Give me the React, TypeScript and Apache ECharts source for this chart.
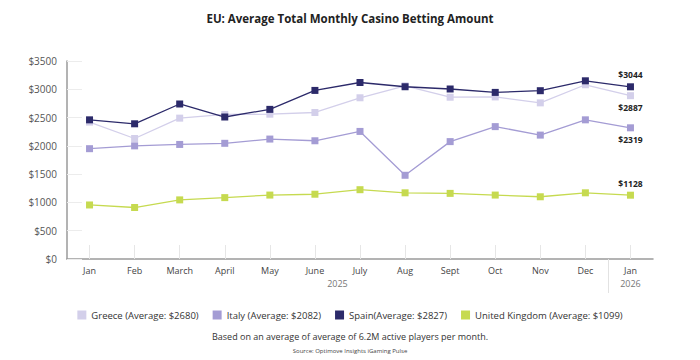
import React, { useEffect, useRef } from "react";
import * as echarts from "echarts";

const months = ["Jan", "Feb", "March", "April", "May", "June", "July", "Aug", "Sept", "Oct", "Nov", "Dec", "Jan"];
const countries = ["Greece", "Italy", "Spain", "United Kingdom"];
const averages = [2680, 2082, 2827, 1099];
const greece = [2420, 2130, 2490, 2555, 2560, 2590, 2850, 3060, 2860, 2865, 2760, 3080, 2887];
const italy = [1950, 2000, 2025, 2045, 2120, 2090, 2255, 1480, 2075, 2340, 2190, 2460, 2319];
const spain = [2460, 2390, 2740, 2510, 2645, 2980, 3120, 3045, 3005, 2945, 2975, 3150, 3044];
const uk = [955, 910, 1045, 1085, 1130, 1145, 1225, 1170, 1160, 1130, 1100, 1170, 1128];
const yearLabels = ["2025", "2026"];
const colors = ["#d3cfea", "#a49cd4", "#2c2a6a", "#c6da50"];

const FONT = "'Open Sans', 'Noto Sans', sans-serif";

export default function App() {
  const ref = useRef<HTMLDivElement>(null);
  useEffect(() => {
    if (!ref.current) return;
    const chart = echarts.init(ref.current, null, { renderer: "svg" });
    const seriesVals = [greece, italy, spain, uk];
    const labelPos = ["bottom", "bottom", "top", "top"];
    const legendNames = countries.map((c, i) =>
      c === "Spain" ? `${c}(Average: $${averages[i]})` : `${c} (Average: $${averages[i]})`
    );
    const series = seriesVals.map((vals, si) => ({
      name: legendNames[si],
      type: "line",
      symbol: "rect",
      symbolSize: 7,
      z: si === 2 ? 3 : 2,
      lineStyle: { width: 1.3, color: colors[si] },
      itemStyle: { color: colors[si] },
      data: vals.map((v, i) =>
        i === vals.length - 1
          ? {
              value: v,
              label: {
                show: true,
                position: labelPos[si],
                distance: 4,
                formatter: "$" + v,
                fontWeight: "bold",
                fontSize: 8.5,
                color: "#222",
                fontFamily: FONT,
              },
            }
          : v
      ),
    }));
    chart.setOption({
      animation: false,
      textStyle: { fontFamily: FONT },
      title: {
        text: "EU: Average Total Monthly Casino Betting Amount",
        left: "center",
        top: 7,
        textStyle: { fontSize: 11.5, fontWeight: "bold", color: "#222", fontFamily: FONT },
      },
      grid: { left: 67, right: 47, top: 61, bottom: 101 },
      xAxis: [
        {
          type: "category",
          data: months,
          boundaryGap: true,
          axisLine: { lineStyle: { color: "#9a9a9a", width: 1.5 } },
          axisTick: { show: true, inside: true, alignWithLabel: true, length: 14, lineStyle: { color: "#e6e6e6" } },
          axisLabel: { color: "#444", fontSize: 9, margin: 7, fontFamily: FONT },
          splitLine: { show: false },
        },
        {
          type: "value",
          min: 0,
          max: 13,
          position: "bottom",
          axisLine: { show: false },
          splitLine: { show: false },
          axisTick: { show: true, customValues: [12], length: 34, lineStyle: { color: "#e2e2e2" } },
          axisLabel: {
            show: true,
            customValues: [6, 12.5],
            formatter: (v: number) => (v < 12 ? yearLabels[0] : yearLabels[1]),
            color: "#777",
            fontSize: 9,
            margin: 20,
            fontFamily: FONT,
          },
        },
      ],
      yAxis: {
        type: "value",
        min: 0,
        max: 3500,
        interval: 500,
        axisLine: { show: true, lineStyle: { color: "#9a9a9a", width: 1.5 } },
        axisTick: { show: true, inside: true, length: 15, lineStyle: { color: "#ececec" } },
        splitLine: { show: false },
        axisLabel: {
          formatter: (v: number) => "$" + v,
          color: "#555",
          fontSize: 10,
          margin: 10,
          fontFamily: FONT,
        },
      },
      legend: {
        data: legendNames,
        top: 305,
        left: "center",
        icon: "rect",
        itemWidth: 9,
        itemHeight: 9,
        itemGap: 14,
        textStyle: { fontSize: 9.5, color: "#333", fontFamily: FONT },
      },
      graphic: [
        {
          type: "text",
          left: "center",
          top: 332,
          style: {
            text: "Based on an average of average of 6.2M active players per month.",
            fontSize: 9,
            fill: "#333",
            fontFamily: FONT,
          },
        },
        {
          type: "text",
          left: "center",
          top: 348,
          style: {
            text: "Source: Optimove Insights iGaming Pulse",
            fontSize: 6,
            fill: "#444",
            fontFamily: FONT,
          },
        },
      ],
      series,
    });
    return () => chart.dispose();
  }, []);
  return <div ref={ref} style={{ width: 700, height: 360, position: "absolute", left: 0, top: 0 }} />;
}
